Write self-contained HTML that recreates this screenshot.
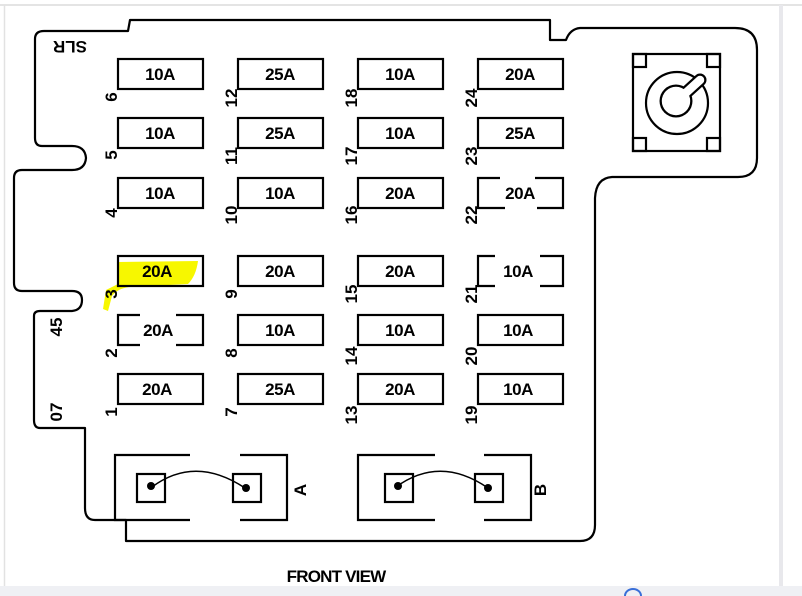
<!DOCTYPE html>
<html><head><style>
body{margin:0;background:#fff;width:802px;height:596px;overflow:hidden;font-family:"Liberation Sans",sans-serif;}
svg{position:absolute;left:0;top:0}
</style></head><body>
<svg width="802" height="596" viewBox="0 0 802 596">
<rect x="0" y="0" width="802" height="596" fill="#fff"/>
<line x1="0" y1="5" x2="802" y2="5" stroke="#dcdcdc" stroke-width="1.5"/>
<line x1="4.5" y1="5" x2="4.5" y2="590" stroke="#e2e2e2" stroke-width="1.5"/>
<rect x="779" y="5" width="4" height="585" fill="#e8e8ec"/>
<rect x="0" y="586" width="802" height="10" fill="#eff0f4"/>
<path d="M625 596 a8 7 0 0 1 16 0" fill="none" stroke="#3a6fd8" stroke-width="2"/>
<g fill="none" stroke="#000" stroke-width="2.2" stroke-linejoin="round">
<path d="M130 20 L550 20 L550 40 L566 40 Q570 29 580 28 L735 28 Q757 28 757 50 L757 158 Q757 177 738 177 L612 177 Q596 178 595 198 L595 525 Q595 541 580 541 L126 541 L126 520 L95 520 Q85 520 85 508 L85 428 L40 428 Q34 428 34 420 L34 316 Q34 311 40 311 L72 311 Q82 310 82 300 Q82 291 72 291 L22 291 Q14 291 14 283 L14 178 Q14 170 22 170 L72 170 Q85 170 86 158 Q85 146 72 146 L42 146 Q35 146 35 138 L35 39 Q35 31 44 31 L128 31 Z"/>
</g>
<path d="M118 262 L198 261 Q196 276 188 284 L130 287 Q118 288 112 296 L108 311 L103 309 L106 290 L118 284 Z" fill="#f7f700"/>
<g fill="none" stroke="#000" stroke-width="2.2">
<rect x="118" y="59" width="85" height="30"/><rect x="238" y="59" width="85" height="30"/><rect x="358" y="59" width="85" height="30"/><rect x="478" y="59" width="85" height="30"/>
<rect x="118" y="118" width="85" height="30"/><rect x="238" y="118" width="85" height="30"/><rect x="358" y="118" width="85" height="30"/><rect x="478" y="118" width="85" height="30"/>
<rect x="118" y="178" width="85" height="30"/><rect x="238" y="178" width="85" height="30"/><rect x="358" y="178" width="85" height="30"/>
<path d="M500 178 L478 178 L478 208 L505 208 M535 178 L563 178 L563 208 L537 208"/>
<rect x="118" y="256" width="85" height="30"/><rect x="238" y="256" width="85" height="30"/><rect x="358" y="256" width="85" height="30"/>
<path d="M495 256 L478 256 L478 286 L495 286 M540 256 L563 256 L563 286 L540 286"/>
<path d="M140 315 L118 315 L118 345 L140 345 M176 315 L203 315 L203 345 L176 345"/>
<rect x="238" y="315" width="85" height="30"/><rect x="358" y="315" width="85" height="30"/><rect x="478" y="315" width="85" height="30"/>
<rect x="118" y="374" width="85" height="30"/><rect x="238" y="374" width="85" height="30"/><rect x="358" y="374" width="85" height="30"/><rect x="478" y="374" width="85" height="30"/>
<rect x="633" y="54" width="87" height="97"/>
<rect x="633" y="54" width="13" height="13"/><rect x="707" y="54" width="13" height="13"/><rect x="633" y="138" width="13" height="13"/><rect x="707" y="138" width="13" height="13"/>
<circle cx="677" cy="103" r="31"/>
<path d="M190 455 L115 455 L115 520 L190 520 M240 455 L287 455 L287 520 L240 520"/>
<path d="M435 455 L358 455 L358 520 L435 520 M484 455 L531 455 L531 520 L484 520"/>
<rect x="137" y="474" width="28" height="28"/><rect x="233" y="474" width="28" height="28"/>
<rect x="385" y="474" width="28" height="28"/><rect x="475" y="474" width="28" height="28"/>
<path d="M152 487 Q195 455 245 488" stroke-width="1.5"/>
<path d="M396 487 Q440 455 488 488" stroke-width="1.5"/>
</g>
<line x1="678" y1="100" x2="700" y2="80" stroke="#000" stroke-width="13" stroke-linecap="round"/>
<circle cx="676" cy="101" r="16.5" fill="#000"/>
<line x1="678" y1="100" x2="700" y2="80" stroke="#fff" stroke-width="8.5" stroke-linecap="round"/>
<circle cx="676" cy="101" r="14.2" fill="#fff"/>
<g fill="#000"><circle cx="151" cy="486" r="4"/><circle cx="246" cy="488" r="4"/><circle cx="398" cy="486" r="4"/><circle cx="488" cy="488" r="4"/></g>
<g font-size="17" font-weight="bold" text-anchor="middle" fill="#000" letter-spacing="-0.5">
<text x="160" y="80">10A</text><text x="280" y="80">25A</text><text x="400" y="80">10A</text><text x="520" y="80">20A</text>
<text x="160" y="139">10A</text><text x="280" y="139">25A</text><text x="400" y="139">10A</text><text x="520" y="139">25A</text>
<text x="160" y="199">10A</text><text x="280" y="199">10A</text><text x="400" y="199">20A</text><text x="520" y="199">20A</text>
<text x="157" y="277">20A</text><text x="280" y="277">20A</text><text x="400" y="277">20A</text><text x="518" y="277">10A</text>
<text x="158" y="336">20A</text><text x="280" y="336">10A</text><text x="400" y="336">10A</text><text x="518" y="336">10A</text>
<text x="157" y="395">20A</text><text x="280" y="395">25A</text><text x="400" y="395">20A</text><text x="518" y="395">10A</text>
</g>
<g font-size="17" font-weight="bold" fill="#000" text-anchor="middle">
<text transform="translate(117,97) rotate(-90)">6</text><text transform="translate(237,98) rotate(-90)">12</text><text transform="translate(357,98) rotate(-90)">18</text><text transform="translate(477,98) rotate(-90)">24</text>
<text transform="translate(117,155) rotate(-90)">5</text><text transform="translate(237,156) rotate(-90)">11</text><text transform="translate(357,156) rotate(-90)">17</text><text transform="translate(477,156) rotate(-90)">23</text>
<text transform="translate(117,213) rotate(-90)">4</text><text transform="translate(237,215) rotate(-90)">10</text><text transform="translate(357,215) rotate(-90)">16</text><text transform="translate(477,215) rotate(-90)">22</text>
<text transform="translate(117,294) rotate(-90)">3</text><text transform="translate(237,294) rotate(-90)">9</text><text transform="translate(357,294) rotate(-90)">15</text><text transform="translate(477,294) rotate(-90)">21</text>
<text transform="translate(117,353) rotate(-90)">2</text><text transform="translate(237,353) rotate(-90)">8</text><text transform="translate(357,356) rotate(-90)">14</text><text transform="translate(477,356) rotate(-90)">20</text>
<text transform="translate(117,412) rotate(-90)">1</text><text transform="translate(237,412) rotate(-90)">7</text><text transform="translate(357,415) rotate(-90)">13</text><text transform="translate(477,415) rotate(-90)">19</text>
<text transform="translate(62,327) rotate(-90)">45</text><text transform="translate(62,412) rotate(-90)">07</text>
<text transform="translate(306,490) rotate(-90)">A</text><text transform="translate(546,490) rotate(-90)">B</text>
<text transform="translate(70,41) rotate(180)">SLR</text>
</g>
<text x="336" y="582" font-size="17" font-weight="bold" text-anchor="middle" letter-spacing="-0.8">FRONT VIEW</text>
</svg>
</body></html>
